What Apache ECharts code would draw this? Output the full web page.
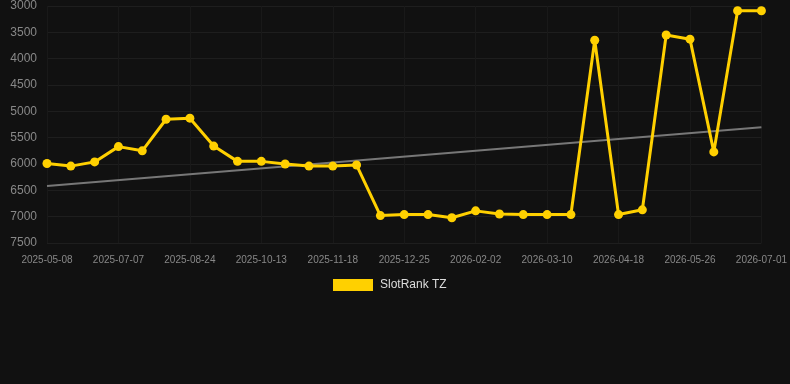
<!DOCTYPE html>
<html>
<head>
<meta charset="utf-8">
<script src="https://cdn.jsdelivr.net/npm/echarts@6/dist/echarts.min.js"></script>
<style>
  html, body { margin: 0; padding: 0; background: #111111; }
  #chart { width: 790px; height: 384px; }
</style>
</head>
<body>
<div id="chart"></div>
<script>
// dates on the x axis (only every 3rd one is labelled)
var dates = [
  '2025-05-08', '2025-05-28', '2025-06-17', '2025-07-07', '2025-07-23', '2025-08-08',
  '2025-08-24', '2025-09-09', '2025-09-26', '2025-10-13', '2025-10-25', '2025-11-06',
  '2025-11-18', '2025-11-30', '2025-12-12', '2025-12-25', '2026-01-07', '2026-01-20',
  '2026-02-02', '2026-02-14', '2026-02-26', '2026-03-10', '2026-03-23', '2026-04-05',
  '2026-04-18', '2026-04-30', '2026-05-13', '2026-05-26', '2026-06-07', '2026-06-19',
  '2026-07-01'
];
// rank values
var rank = [
  5990, 6040, 5960, 5670, 5750, 5150, 5130, 5660, 5950, 5950, 6000, 6040,
  6040, 6020, 6980, 6960, 6960, 7020, 6890, 6950, 6960, 6960, 6960, 3650,
  6960, 6870, 3550, 3630, 5770, 3090, 3090
];
// trend line: first and last point only
var trendStart = 6420;
var trendEnd = 5300;
var trend = dates.map(function (d, i) {
  if (i === 0) return trendStart;
  if (i === dates.length - 1) return trendEnd;
  return null;
});

var myChart = echarts.init(document.getElementById('chart'));
var option = {
  backgroundColor: '#111111',
  animation: false,
  grid: { left: 47, right: 28, top: 6, bottom: 141 },
  legend: {
    top: 274,
    left: 328,
    data: ['SlotRank TZ'],
    icon: 'rect',
    itemWidth: 40,
    itemHeight: 12,
    itemGap: 10,
    textStyle: { color: '#dddddd', fontSize: 12, padding: [0, 0, 0, 2], fontFamily: 'Arial, Liberation Sans, sans-serif' }
  },
  xAxis: {
    type: 'category',
    data: dates,
    boundaryGap: false,
    axisLine: { show: false },
    axisTick: { show: false },
    axisLabel: {
      interval: 2,
      color: '#888888',
      fontSize: 10,
      margin: 12,
      fontFamily: 'Arial, Liberation Sans, sans-serif'
    },
    splitLine: { show: true, interval: 2, lineStyle: { color: '#191919', width: 1 } }
  },
  yAxis: {
    type: 'value',
    inverse: true,
    min: 3000,
    max: 7500,
    interval: 500,
    axisLine: { show: false },
    axisTick: { show: false },
    axisLabel: {
      color: '#888888',
      fontSize: 12,
      margin: 10,
      formatter: function (v) { return String(v); },
      fontFamily: 'Arial, Liberation Sans, sans-serif'
    },
    splitLine: { lineStyle: { color: '#1e1e1e', width: 1 } }
  },
  series: [
    {
      name: 'SlotRank TZ',
      type: 'line',
      data: rank,
      symbol: 'circle',
      symbolSize: 9,
      color: '#ffd000',
      lineStyle: { color: '#ffd000', width: 3 },
      itemStyle: { color: '#ffd000' },
      z: 3
    },
    {
      name: 'trend',
      type: 'line',
      data: trend,
      connectNulls: true,
      symbol: 'none',
      lineStyle: { color: '#777777', width: 2 },
      z: 2,
      silent: true
    }
  ]
};
myChart.setOption(option);
</script>
</body>
</html>
